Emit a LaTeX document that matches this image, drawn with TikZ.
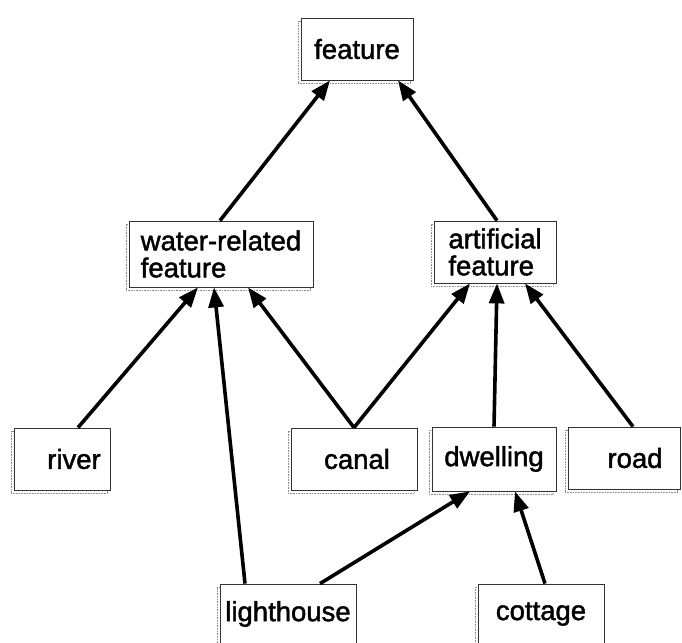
\documentclass[tikz,border=0pt]{standalone}
\usepackage{fontspec}
\setmainfont{Liberation Sans}
\newfontfamily\lblfont{Liberation Sans}[FakeBold=1.6]
\usetikzlibrary{arrows.meta,shadows}
\begin{document}
\begin{tikzpicture}[x=1pt,y=-1pt,
  box/.style={draw=black!80,line width=0.8pt,inner sep=0pt,fill=white,
    font=\lblfont\fontsize{27.5}{27}\selectfont,
    general shadow={shadow xshift=-3pt,shadow yshift=-3pt,draw=black!45,densely dotted,line width=0.6pt,fill=none}},
  link/.style={line width=3.6pt,-{Triangle[length=20pt,width=15pt]}}]
\useasboundingbox (0,0) rectangle (682,642);
% concepts
\node[box,minimum width=112pt,minimum height=62pt] (feature) at (357,49) {feature};
\node[box,minimum width=184pt,minimum height=66pt,align=left] (water) at (221,254) {water-related\\feature};
\node[box,minimum width=122pt,minimum height=62pt,align=left] (artif) at (495,252) {artificial\\feature};
\node[box,minimum width=96pt,minimum height=62pt] (river) at (62,459) {\hspace*{24pt}river};
\node[box,minimum width=126pt,minimum height=62pt] (canal) at (354,459) {\hspace*{6pt}canal};
\node[box,minimum width=124pt,minimum height=64pt] (dwelling) at (494,459) {dwelling};
\node[box,minimum width=112pt,minimum height=62pt] (road) at (624,458) {\hspace*{22pt}road};
\node[box,minimum width=136pt,minimum height=60pt] (lighthouse) at (288,614) {lighthouse};
\node[box,minimum width=126pt,minimum height=60pt] (cottage) at (541,614) {cottage};
% is-a links
\draw[link] ([xshift=-1pt]water.north) -- ([xshift=-27pt]feature.south);
\draw[link] ([xshift=2pt]artif.north) -- ([xshift=41pt]feature.south);
\draw[link] ([xshift=16pt]river.north) -- ([xshift=-23pt]water.south);
\draw[link] ([xshift=-43pt]lighthouse.north) -- ([xshift=-7pt]water.south);
\draw[link] (canal.north) -- ([xshift=27pt]water.south);
\draw[link] (canal.north) -- ([xshift=-25pt]artif.south);
\draw[link] (dwelling.north) -- ([xshift=2pt]artif.south);
\draw[link] ([xshift=9pt]road.north) -- ([xshift=30pt]artif.south);
\draw[link] ([xshift=32pt]lighthouse.north) -- ([xshift=-24pt]dwelling.south);
\draw[link] ([xshift=4pt]cottage.north) -- ([xshift=21pt]dwelling.south);
\end{tikzpicture}
\end{document}
